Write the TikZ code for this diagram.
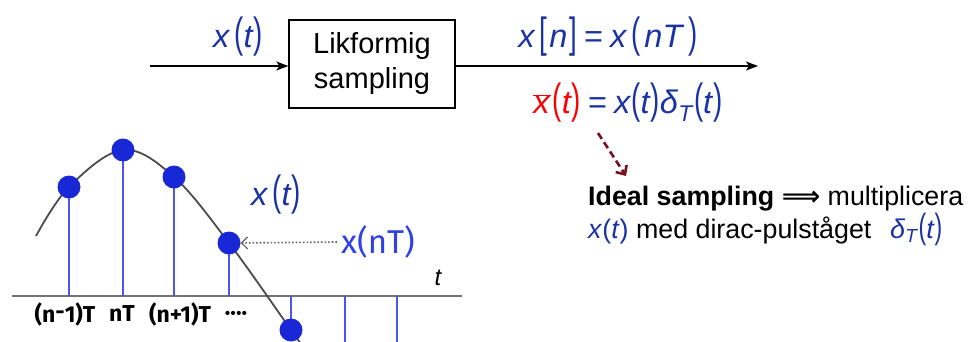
\documentclass[tikz,border=0pt]{standalone}
\usepackage{fontspec}
\usepackage{graphicx}
\setmainfont{Liberation Sans}
\newfontfamily\dejavu{DejaVu Sans}
\newfontfamily\handf{Fira Sans}
\usetikzlibrary{arrows.meta}
\definecolor{eqblue}{RGB}{25,50,165}
\definecolor{stemblue}{RGB}{75,85,235}
\definecolor{dotblue}{RGB}{25,40,215}
\definecolor{handblue}{RGB}{45,65,230}
\definecolor{darkred}{RGB}{120,15,30}
\newcommand{\tlp}{\scalebox{0.85}[1.3]{(}}
\newcommand{\trp}{\scalebox{0.85}[1.3]{)}}
\newcommand{\tlb}{\scalebox{0.85}[1.3]{[}}
\newcommand{\trb}{\scalebox{0.85}[1.3]{]}}
\newcommand{\eqsp}{\hspace{4pt}}
\newcommand{\eqeq}{\hspace{7pt}=\hspace{7pt}}
\begin{document}
\begin{tikzpicture}[x=1pt,y=-1pt,
  eq/.style={inner sep=0pt,font=\fontsize{32.5}{33}\selectfont,text=eqblue},
  blk/.style={draw,line width=1.3pt,minimum width=166pt,minimum height=88pt,align=center,font=\fontsize{29}{35}\selectfont},
  sig/.style={line width=1.3pt,-{Stealth[length=12pt,width=9pt,inset=3pt]}},
  stem/.style={draw=stemblue,line width=2.4pt},
  dot/.style={circle,fill=dotblue,inner sep=0pt,minimum size=23pt},
  curve/.style={draw=black!70,line width=1.8pt},
  axis/.style={draw=black!55,line width=1.2pt},
  hand/.style={inner sep=0pt,font=\handf\bfseries\fontsize{23}{24}\selectfont},
  txt/.style={inner sep=0pt,font=\fontsize{26.8}{28}\selectfont,anchor=base west}
]
\useasboundingbox (0,0) rectangle (969,342);

% block diagram
\node[blk] (box) at (372,64) {Likformig\\sampling};
\coordinate (in) at (150,66);
\coordinate (out) at (758,66);
\draw[sig] (in) -- (box.west |- in);
\draw[sig] (box.east |- out) -- (out);
\node[eq] (xt) at (238,37) {\textit{x}\eqsp\tlp\textit{t}\trp};
\node[eq] (xn) at (608,37) {\textit{x}\eqsp\tlb\hspace{2pt}\textit{n}\hspace{2pt}\trb\eqeq\textit{x}\eqsp\tlp\eqsp\textit{nT}\eqsp\trp};
\node[eq] (xbar) at (628,103) {\textcolor{red}{$\overline{\mbox{\textit{x}}}$\hspace{2pt}\tlp\textit{t}\trp}\eqeq\textit{x}\tlp\textit{t}\trp\textit{δ}\textsubscript{\textit{T}}\tlp\textit{t}\trp};

% dashed arrow
\coordinate (da) at (598,133);
\coordinate (db) at (626,176);
\draw[darkred,line width=2.6pt,dash pattern=on 7pt off 4pt,-{Straight Barb[length=7pt,width=13pt,line width=2.6pt]}] (da) -- (db);

% explanation text
\node[txt] (t1) at (588,205) {\textbf{Ideal sampling} {\dejavu\bfseries ⟹} multiplicera};
\node[txt] (t2) at (588,238) {\textcolor{eqblue}{\textit{x}(\textit{t})} med dirac-pulståget};
\node[eq,anchor=base west,font=\fontsize{27}{28}\selectfont] (dT) at (890,238) {\textit{δ}\textsubscript{\textit{T}}\tlp\textit{t}\trp};

% sampled signal plot
\coordinate (a1) at (69,296);
\coordinate (a2) at (123,296);
\coordinate (a3) at (174,296);
\coordinate (a4) at (229,296);
\coordinate (a5) at (291,296);
\coordinate (a6) at (345,296);
\coordinate (a7) at (397,296);
\coordinate (p1) at (69,187);
\coordinate (p2) at (123,150);
\coordinate (p3) at (174,177);
\coordinate (p4) at (229,243);
\coordinate (p5) at (291,330);
\coordinate (p6) at (345,350);
\coordinate (p7) at (397,350);
\coordinate (axl) at (12,296);
\coordinate (axr) at (462,296);
\draw[axis] (axl) -- (axr);
\foreach \i in {1,...,7} {\draw[stem] (a\i) -- (p\i);}
\draw[curve] plot[smooth,tension=0.6] coordinates {(36,236) (69,187) (123,150) (174,177) (229,243) (291,330) (301,344)};
\foreach \i in {1,...,5} {\node[dot] (d\i) at (p\i) {};}

\node[inner sep=0pt,font=\fontsize{24}{24}\selectfont\itshape] (tl) at (438,278) {t};
\node[hand] (l1) at (65,314) {(n\raisebox{0.1em}{-}1)T};
\node[hand] (l2) at (122,314) {nT};
\node[hand] (l3) at (180,314) {(n+1)T};
\node[hand] (l4) at (236,316) {····};

\node[eq] (xt2) at (276,195) {\textit{x}\eqsp\tlp\textit{t}\trp};
\node[inner sep=0pt,text=handblue,font=\handf\fontsize{33}{34}\selectfont] (xnT) at (378,242) {x(nT)};
\draw[black!60,line width=1.6pt,dotted,-{Straight Barb[length=6pt,width=12pt,line width=1.2pt]}] (xnT.west) ++(-4,0) -- (d4.east);
\end{tikzpicture}
\end{document}
